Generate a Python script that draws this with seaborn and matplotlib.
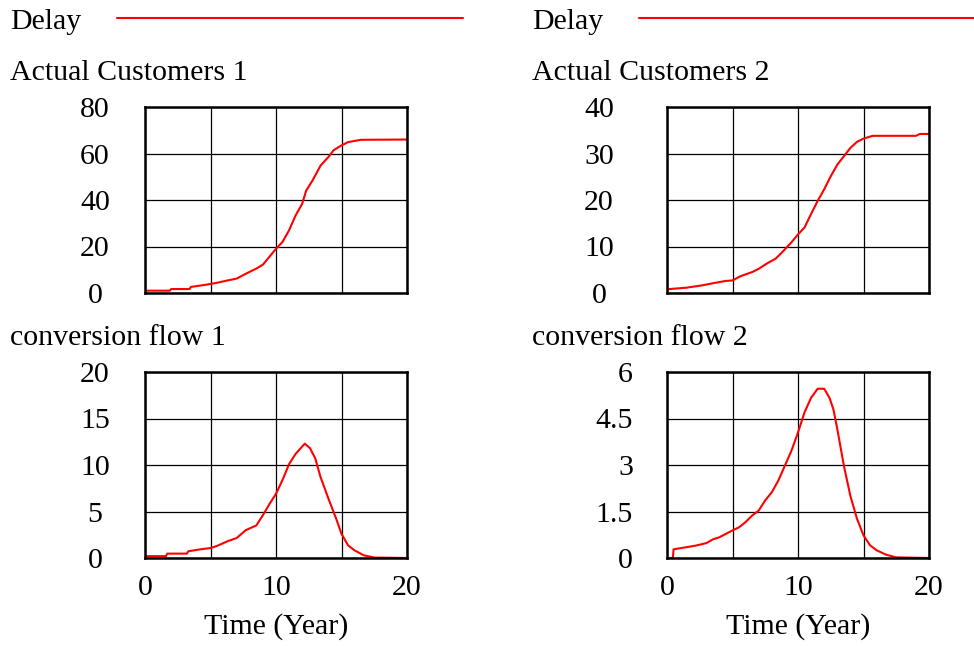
import numpy as np
import pandas as pd
import matplotlib
matplotlib.use('Agg')
import matplotlib.pyplot as plt
import seaborn as sns

t_cust1 = [0, 1.9, 2.0, 3.4, 3.5, 4.7, 5.5, 6.3, 7.0, 7.7, 8.5, 9.0, 10.0, 10.5, 11.0,
           11.5, 12.0, 12.3, 12.8, 13.4, 14.0, 14.4, 15.0, 15.5, 16.5, 20.0]
cust1 = [1.0, 1.0, 1.7, 1.7, 2.6, 3.6, 4.4, 5.4, 6.2, 8.3, 10.5, 12.2, 19.0, 22.0, 27.0,
         33.4, 38.4, 44.0, 48.5, 54.8, 58.5, 61.4, 63.5, 64.9, 65.9, 66.0]

t_flow1 = [0, 1.6, 1.7, 3.2, 3.3, 4.2, 5.0, 5.5, 6.3, 7.0, 7.7, 8.5, 9.0, 9.5, 10.0, 10.5,
           11.0, 11.5, 12.2, 12.6, 13.0, 13.4, 14.0, 14.6, 15.0, 15.5, 16.0, 16.7, 17.5, 20.0]
flow1 = [0.2, 0.2, 0.47, 0.47, 0.72, 0.93, 1.07, 1.3, 1.8, 2.15, 3.0, 3.5, 4.6, 5.8, 6.9, 8.4,
         10.1, 11.2, 12.3, 11.8, 10.7, 8.7, 6.4, 4.2, 2.6, 1.36, 0.82, 0.29, 0.05, 0.0]

t_cust2 = [0, 1.5, 2.7, 3.6, 4.5, 5.0, 5.6, 6.5, 7.0, 7.6, 8.3, 8.8, 9.5, 10.0, 10.5, 11.0,
           11.5, 12.0, 12.5, 13.0, 13.5, 14.0, 14.5, 15.0, 15.7, 19.0, 19.3, 20.0]
cust2 = [0.8, 1.15, 1.65, 2.15, 2.6, 2.7, 3.6, 4.5, 5.2, 6.3, 7.4, 8.8, 10.9, 12.6, 14.1, 17.0,
         19.8, 22.3, 25.1, 27.6, 29.4, 31.2, 32.5, 33.2, 33.8, 33.8, 34.2, 34.2]

t_flow2 = [0, 0.45, 0.5, 1.5, 2.2, 3.0, 3.5, 4.0, 4.5, 5.0, 5.5, 6.0, 6.5, 7.0, 7.5, 8.0,
           8.5, 9.0, 9.5, 10.0, 10.5, 11.0, 11.5, 12.0, 12.4, 12.7, 13.0, 13.5, 14.0, 14.5,
           15.0, 15.5, 16.0, 16.7, 17.5, 20.0]
flow2 = [0.0, 0.0, 0.28, 0.35, 0.4, 0.48, 0.6, 0.67, 0.78, 0.89, 0.99, 1.16, 1.37, 1.53, 1.86, 2.12,
         2.5, 2.98, 3.46, 4.05, 4.7, 5.17, 5.46, 5.46, 5.17, 4.8, 4.16, 2.98, 2.0, 1.27,
         0.73, 0.41, 0.25, 0.11, 0.02, 0.0]

sns.set_style('white')
plt.rcParams['font.family'] = ['Liberation Serif', 'DejaVu Serif']
plt.rcParams['text.color'] = 'black'
plt.rcParams['axes.labelcolor'] = 'black'
plt.rcParams['xtick.color'] = 'black'
plt.rcParams['ytick.color'] = 'black'
FS = 21.5

fig = plt.figure(figsize=(9.74, 6.46), dpi=100)

W = 262 / 974
H = 186 / 646
panels = [
    # left, bottom, title, t, y, ymax, yticks, labels, label pad, ha, title x
    (145 / 974, 1 - 293 / 646, 'Actual Customers 1', t_cust1, cust1, 80, [0, 20, 40, 60, 80],
     ['0', '20', '40', '60', '80'], 36, 'center', 10),
    (145 / 974, 1 - 558 / 646, 'conversion flow 1', t_flow1, flow1, 20, [0, 5, 10, 15, 20],
     ['0', '5', '10', '15', '20'], 36, 'center', 10),
    (667 / 974, 1 - 293 / 646, 'Actual Customers 2', t_cust2, cust2, 40, [0, 10, 20, 30, 40],
     ['0', '10', '20', '30', '40'], 49, 'center', 532),
    (667 / 974, 1 - 558 / 646, 'conversion flow 2', t_flow2, flow2, 6, [0, 1.5, 3, 4.5, 6],
     ['0', '1.5', '3', '4.5', '6'], 24.5, 'right', 532),
]

axes = []
for left, bottom, title, tt, yy, ymax, yt, ytl, pad, ha, tx in panels:
    ax = fig.add_axes([left, bottom, W, H])
    df = pd.DataFrame({'Time': tt, 'val': yy})
    sns.lineplot(data=df, x='Time', y='val', ax=ax, color='red', lw=1.5,
                 label='Delay', legend=False)
    ax.set_xlim(0, 20)
    ax.set_ylim(0, ymax)
    ax.set_xticks([0, 10, 20])
    ax.set_xticks([5, 15], minor=True)
    ax.set_yticks(yt)
    ax.set_yticklabels(ytl)
    ax.grid(True, which='both', color='black', lw=0.9)
    for s in ax.spines.values():
        s.set_color('black')
        s.set_linewidth(1.8)
    ax.tick_params(axis='y', length=0, pad=pad, labelsize=FS)
    ax.tick_params(axis='x', which='minor', length=0)
    for lbl in ax.get_yticklabels():
        lbl.set_ha(ha)
    ax.set_ylabel('')
    ax.set_xlabel('')
    ax.text(tx / 974, bottom + H + 27 / 646, title, transform=fig.transFigure,
            fontsize=FS, ha='left', va='baseline')
    axes.append(ax)

for ax in axes:
    if ax.get_position().y0 < 0.3:
        ax.tick_params(axis='x', length=0, pad=12, labelsize=FS)
        ax.set_xlabel('Time (Year)', fontsize=FS, labelpad=9)
    else:
        ax.tick_params(axis='x', length=0, labelbottom=False)

# "Delay" legend keys on top of each column
for ax, x0 in [(axes[0], 10), (axes[2], 532)]:
    ax.legend(handles=ax.get_lines()[:1], labels=['Delay'], loc='upper left',
              bbox_to_anchor=(x0 / 974, 1 - 8 / 646), bbox_transform=fig.transFigure,
              frameon=False, borderpad=0, borderaxespad=0, markerfirst=False,
              handlelength=11.6, handletextpad=1.2, fontsize=FS, labelcolor='black')

fig.savefig('out.png', dpi=100)
